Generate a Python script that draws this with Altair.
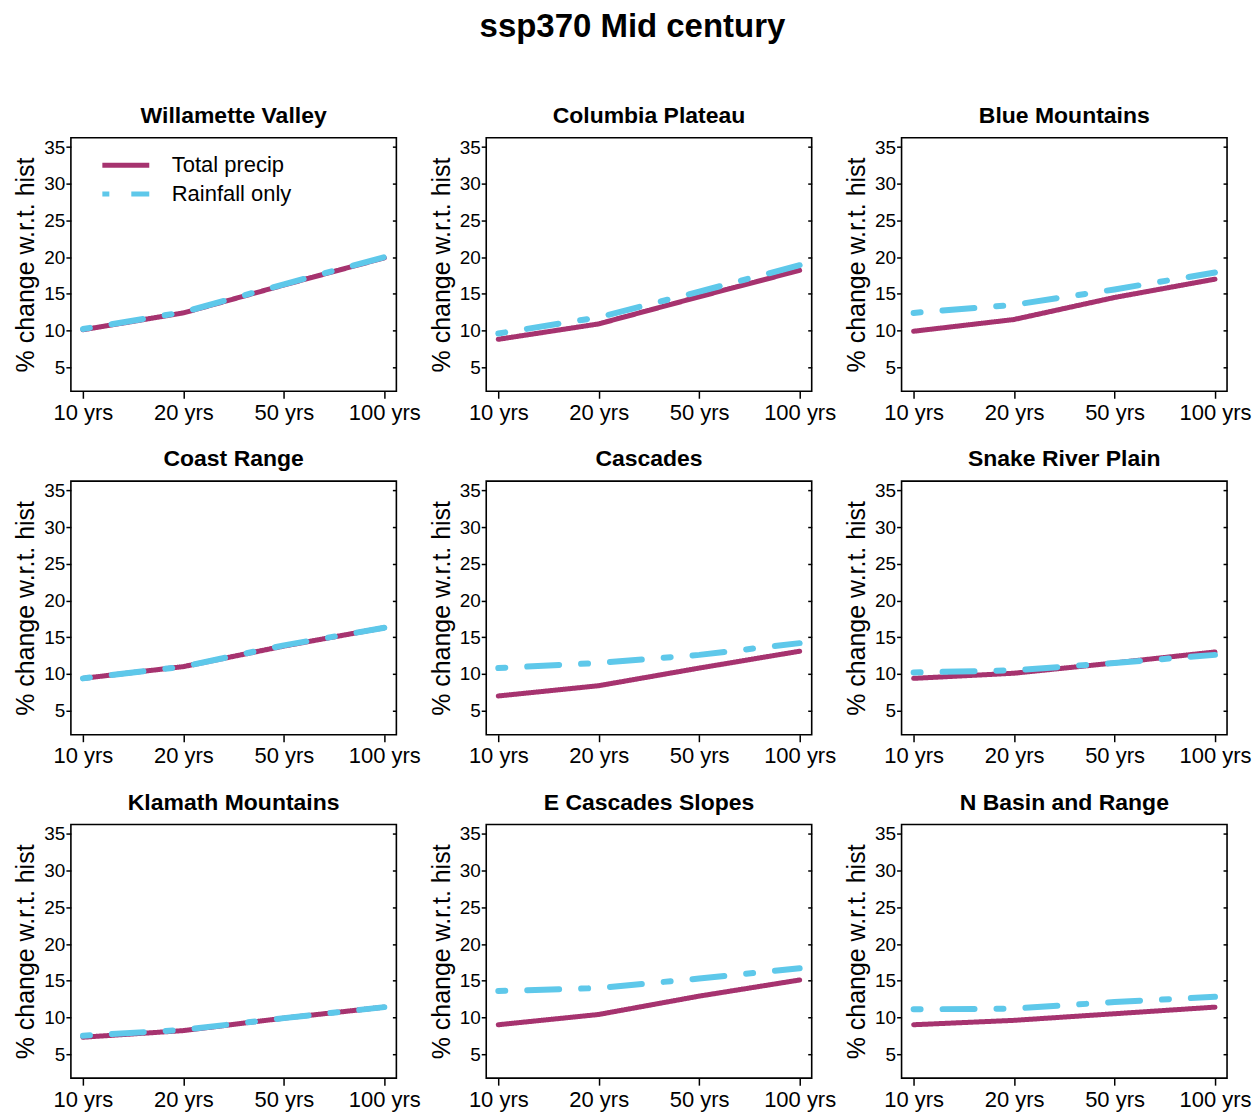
import altair as alt
import pandas as pd

durations = ["10 yrs", "20 yrs", "50 yrs", "100 yrs"]
regions = [
    "Willamette Valley", "Columbia Plateau", "Blue Mountains",
    "Coast Range", "Cascades", "Snake River Plain",
    "Klamath Mountains", "E Cascades Slopes", "N Basin and Range",
]
series_names = ["Total precip", "Rainfall only"]
total_precip = [
    [10.1, 12.4, 16.2, 19.9],
    [8.8, 10.9, 14.6, 18.2],
    [9.9, 11.5, 14.5, 17.0],
    [9.4, 11.0, 13.8, 16.3],
    [7.0, 8.4, 10.8, 13.1],
    [9.4, 10.1, 11.5, 13.0],
    [7.3, 8.2, 9.9, 11.4],
    [9.0, 10.4, 12.9, 15.1],
    [9.0, 9.6, 10.5, 11.4],
]
rainfall_only = [
    [10.2, 12.5, 16.3, 20.0],
    [9.6, 11.8, 15.3, 18.9],
    [12.4, 13.5, 15.6, 17.9],
    [9.4, 11.0, 13.9, 16.3],
    [10.8, 11.5, 12.6, 14.2],
    [10.2, 10.5, 11.5, 12.6],
    [7.5, 8.3, 9.9, 11.4],
    [13.6, 14.0, 15.3, 16.7],
    [11.1, 11.2, 12.1, 12.8],
]
y_ticks = [5, 10, 15, 20, 25, 30, 35]
y_domain = [1.72, 36.28]

FONT = "Liberation Sans"
MAGENTA = "#A6336F"
CYAN = "#5EC8EA"
W, H = 326, 254
DASH_RAIN = [7, 22, 32, 22]

legend_spec = dict(title=None, orient="none", legendX=29, legendY=14,
                   symbolType="stroke", symbolSize=2209, clipHeight=27,
                   symbolStrokeWidth=5, labelFontSize=22,
                   labelFont=FONT, labelColor="black", labelOffset=20,
                   rowPadding=2)


def panel(i):
    rows = []
    for s, vals in zip(series_names, [total_precip[i], rainfall_only[i]]):
        for d, v in zip(durations, vals):
            rows.append({"duration": d, "series": s, "value": v})
    df = pd.DataFrame(rows)

    x = alt.X(
        "duration:O", sort=durations,
        scale=alt.Scale(type="point", padding=0.12),
        axis=alt.Axis(title=None, labelAngle=0, labelFontSize=22, tickSize=7,
                      domain=False, labelPadding=4, grid=False,
                      tickColor="black", tickWidth=1.5, labelColor="black",
                      labelFont=FONT),
    )
    yscale = alt.Scale(domain=y_domain, nice=False, zero=False)
    color = alt.Color(
        "series:N",
        scale=alt.Scale(domain=series_names, range=[MAGENTA, CYAN]),
        legend=alt.Legend(**legend_spec),
    )
    dash = alt.StrokeDash(
        "series:N",
        scale=alt.Scale(domain=series_names, range=[[1, 0], DASH_RAIN]),
        legend=alt.Legend(**legend_spec),
    )

    base = alt.Chart(df)
    total = base.transform_filter(alt.datum.series == series_names[0]).mark_line(
        strokeWidth=5, strokeCap="round", strokeJoin="round"
    ).encode(
        x=x,
        y=alt.Y("value:Q", scale=yscale,
                axis=alt.Axis(title="% change w.r.t. hist", values=y_ticks,
                              labelFontSize=19, titleFontSize=25,
                              titleFontWeight="normal", titleFont=FONT,
                              labelFont=FONT, domain=False, grid=False,
                              tickSize=5, tickWidth=1.5, tickColor="black",
                              labelColor="black", titleColor="black",
                              labelPadding=1, titlePadding=5)),
        color=color, strokeDash=dash,
    )
    rain = base.transform_filter(alt.datum.series == series_names[1]).mark_line(
        strokeWidth=6, strokeCap="round", strokeJoin="round"
    ).encode(
        x=x,
        y=alt.Y("value:Q", scale=yscale, axis=None),
        color=color, strokeDash=dash,
    )
    right = base.transform_filter(alt.datum.series == series_names[0]).mark_line(
        strokeOpacity=0
    ).encode(
        x=x,
        y=alt.Y("value:Q", scale=yscale,
                axis=alt.Axis(orient="right", values=y_ticks, labels=False,
                              domain=False, title=None, grid=False,
                              tickSize=4, offset=-4, tickWidth=1.5,
                              tickColor="black")),
    )
    return alt.layer(total, rain, right).resolve_axis(y="independent").properties(
        width=W, height=H,
        title=alt.TitleParams(regions[i], fontSize=23, fontWeight="bold",
                              font=FONT, color="black", offset=10),
    )


chart = alt.concat(*[panel(i) for i in range(9)], columns=3, spacing=90,
                   bounds="flush").properties(
    title=alt.TitleParams("ssp370 Mid century", fontSize=33, fontWeight="bold",
                          font=FONT, color="black", anchor="middle", offset=60),
    padding={"left": 5, "top": 2, "right": 0, "bottom": 0},
).configure_view(stroke="black", strokeWidth=1.6)

chart.save("out.html", embed_options={"renderer": "svg", "actions": False})
